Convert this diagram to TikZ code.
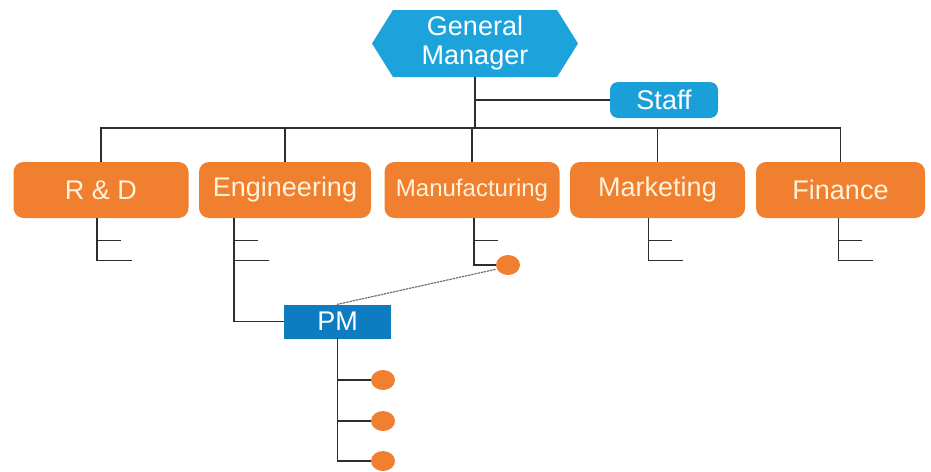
\documentclass[tikz,border=0pt]{standalone}
\usepackage{fontspec}
\setmainfont{Liberation Sans}
\usetikzlibrary{shapes.symbols,shapes.geometric}

\begin{document}
\begin{tikzpicture}[x=1pt,y=-1pt,line cap=rect,
		wire/.style={line width=1.2pt, custcol_line},
		boss/.style={signal, signal to=east and west, signal pointer angle=116, fill=custcol_gm, text=white,
			minimum width=206pt, minimum height=67pt, inner sep=0, align=center, font=\fontsize{27pt}{29pt}\selectfont},
		staffbox/.style={rounded corners=8pt, fill=custcol_staff, text=white, minimum width=108pt, minimum height=36pt,
			inner sep=0, font=\fontsize{27pt}{29pt}\selectfont},
		dept/.style={rounded corners=10pt, fill=custcol_orange, text=custcol_cream, minimum width=175pt, minimum height=56pt,
			inner sep=0, font=\fontsize{27pt}{29pt}\selectfont},
		pmbox/.style={fill=custcol_pm, text=white, minimum width=107pt, minimum height=34pt, inner sep=0,
			font=\fontsize{27pt}{29pt}\selectfont},
		dot/.style={ellipse, fill=custcol_orange, minimum width=24pt, minimum height=20pt, inner sep=0}]
	\definecolor{custcol_gm}{RGB}{28, 163, 220}
	\definecolor{custcol_staff}{RGB}{27, 159, 217}
	\definecolor{custcol_pm}{RGB}{14, 124, 193}
	\definecolor{custcol_orange}{RGB}{240, 128, 48}
	\definecolor{custcol_cream}{RGB}{255, 243, 217}
	\definecolor{custcol_line}{RGB}{45, 45, 45}
	\definecolor{custcol_dots}{RGB}{110, 110, 130}
	\useasboundingbox (0,0) rectangle (931,471);

	% top
	\node[boss] (gm) at (475,43.5) {General\\Manager};
	\node[staffbox] (staff) at (664,100) {Staff};

	% departments
	\node[dept] (rd) at (101,190) {R \& D};
	\node[dept, minimum width=172pt] (eng) at (285,190) {Engineering};
	\node[dept, font=\fontsize{24pt}{26pt}\selectfont] (man) at (472,190) {Manufacturing};
	\node[dept] (mkt) at (657.5,190) {Marketing};
	\node[dept, minimum width=169pt] (fin) at (840.5,190) {Finance};

	% project manager and members
	\node[pmbox] (pm) at (337.5,321.5) {PM};
	\node[dot] (m1) at (508,265) {};
	\node[dot] (p1) at (383,380) {};
	\node[dot] (p2) at (383,421) {};
	\node[dot] (p3) at (383,461) {};

	\coordinate (bus) at (0,128);
	\draw[wire] (gm.south) -- (gm.south |- bus);
	\draw[wire] (gm.south |- staff.west) -- (staff.west);
	\draw[wire] (rd.north |- bus) -- (fin.north |- bus);
	\foreach \d in {rd,eng,man,mkt,fin}
		\draw[wire] (\d.north |- bus) -- (\d.north);

	% small sub-trees
	\foreach \d/\dx in {rd/-4, mkt/-9, fin/-2} {
		\draw[wire] ([xshift=\dx pt]\d.south) -- ++(0,42) -- ++(34,0);
		\draw[wire] ([xshift=\dx pt]\d.south) ++(0,22) -- ++(23,0);
	}
	\draw[wire] ([xshift=-51pt]eng.south) |- (pm.west);
	\draw[wire] ([xshift=-51pt]eng.south) ++(0,22) -- ++(23,0);
	\draw[wire] ([xshift=-51pt]eng.south) ++(0,42) -- ++(34,0);
	\draw[wire] ([xshift=2pt]man.south) |- (m1.west);
	\draw[wire] ([xshift=2pt]man.south) ++(0,22) -- ++(23,0);

	\draw[wire] (pm.south) |- (p3.west);
	\draw[wire] (pm.south |- p1) -- (p1.west);
	\draw[wire] (pm.south |- p2) -- (p2.west);

	\draw[dotted, line width=1.2pt, custcol_dots] (pm.north) -- (m1.200);
\end{tikzpicture}
\end{document}
